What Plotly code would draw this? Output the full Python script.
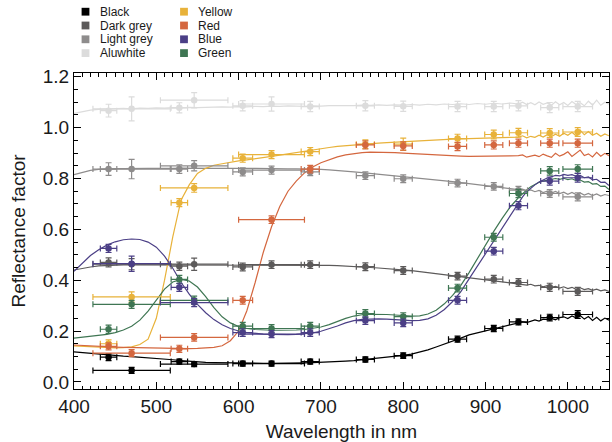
import plotly.graph_objects as go

# ---------------- data ----------------
WL = [400, 410, 420, 430, 440, 450, 460, 470, 480, 490, 500, 510, 520, 530, 540, 550, 560, 570, 580, 590,
      600, 610, 620, 630, 640, 650, 660, 670, 680, 690, 700, 710, 720, 730, 740, 750, 760, 770, 780, 790,
      800, 810, 820, 830, 840, 850, 860, 870, 880, 890, 900, 910, 920, 930, 940,
      945, 950, 955, 960, 965, 970, 975, 980, 985, 990, 995, 1000, 1005, 1010, 1015, 1020, 1025, 1030,
      1035, 1040, 1045, 1050]

SPEC_BLACK = [.118, .115, .111, .108, .105, .103, .101, .099, .097, .095, .093, .090, .087, .084, .081, .079, .077, .076, .075, .074,
              .073, .073, .073, .073, .073, .073, .073, .074, .075, .076, .077, .078, .080, .082, .084, .087, .090, .093, .096, .100,
              .104, .109, .116, .126, .137, .148, .160, .172, .185, .193, .200, .208, .217, .225, .232,
              .236, .233, .240, .244, .239, .247, .245, .250, .244, .253, .256, .249, .259, .252, .261, .247, .257, .242,
              .254, .240, .251, .243]
SPEC_DARKGREY = [.440, .447, .452, .456, .458, .459, .460, .460, .460, .460, .460, .460, .459, .459, .459, .460, .460, .460, .460, .459,
                 .459, .459, .460, .460, .460, .460, .460, .460, .460, .459, .459, .458, .457, .456, .454, .452, .450, .448, .446, .444,
                 .441, .438, .434, .430, .426, .422, .418, .414, .410, .406, .402, .398, .394, .390, .386,
                 .384, .381, .384, .378, .380, .374, .379, .372, .376, .369, .374, .367, .372, .364, .370, .363, .367, .360,
                 .365, .358, .362, .356]
SPEC_LIGHTGREY = [.815, .825, .832, .836, .838, .839, .839, .840, .840, .840, .840, .839, .840, .841, .840, .840, .841, .840, .840, .841,
                  .840, .840, .840, .839, .839, .839, .838, .838, .838, .837, .836, .834, .832, .829, .826, .823, .820, .817, .814, .811,
                  .808, .805, .802, .798, .795, .791, .788, .784, .780, .776, .772, .768, .764, .760, .756,
                  .758, .751, .755, .748, .753, .745, .750, .743, .749, .741, .746, .738, .745, .737, .743, .735, .741, .733,
                  .739, .731, .737, .733]
SPEC_ALUWHITE = [1.056, 1.063, 1.069, 1.072, 1.074, 1.075, 1.076, 1.074, 1.077, 1.076, 1.078, 1.077, 1.079, 1.078, 1.080, 1.079, 1.081, 1.080, 1.082, 1.081,
                 1.083, 1.082, 1.084, 1.083, 1.085, 1.084, 1.086, 1.085, 1.084, 1.086, 1.085, 1.087, 1.086, 1.088, 1.087, 1.089, 1.088, 1.090, 1.088, 1.090,
                 1.089, 1.091, 1.089, 1.092, 1.090, 1.093, 1.091, 1.094, 1.091, 1.095, 1.092, 1.096, 1.093, 1.097, 1.093,
                 1.100, 1.091, 1.098, 1.090, 1.101, 1.092, 1.097, 1.088, 1.102, 1.090, 1.099, 1.087, 1.103, 1.091, 1.098, 1.086, 1.104, 1.089,
                 1.108, 1.088, 1.100, 1.092]
SPEC_YELLOW = [.142, .140, .138, .136, .135, .134, .135, .138, .147, .168, .250, .400, .570, .715, .775, .820, .840, .852, .858, .864,
               .869, .873, .877, .882, .887, .892, .897, .902, .908, .914, .918, .922, .926, .929, .932, .935, .937, .939, .941, .943,
               .945, .947, .949, .951, .952, .954, .955, .956, .957, .958, .959, .960, .961, .962, .963,
               .968, .960, .966, .962, .970, .963, .972, .965, .974, .966, .978, .970, .982, .968, .990, .972, .985, .970,
               .978, .966, .975, .968]
SPEC_RED = [.145, .143, .141, .139, .138, .137, .136, .135, .134, .133, .132, .131, .131, .131, .131, .132, .133, .136, .142, .162,
            .200, .280, .390, .510, .610, .690, .750, .790, .822, .845, .862, .875, .885, .893, .898, .902, .904, .904, .903, .902,
            .900, .898, .896, .894, .892, .890, .889, .888, .887, .887, .887, .888, .888, .889, .890,
            .893, .884, .889, .892, .886, .896, .889, .883, .899, .888, .895, .905, .887, .900, .912, .890, .897, .885,
            .903, .888, .899, .890]
SPEC_BLUE = [.435, .468, .497, .520, .538, .551, .559, .562, .560, .550, .530, .495, .447, .392, .345, .305, .272, .245, .225, .210,
             .200, .194, .190, .188, .187, .186, .186, .187, .189, .193, .199, .208, .220, .232, .241, .246, .248, .248, .247, .245,
             .243, .241, .242, .248, .262, .285, .316, .355, .405, .455, .500, .550, .605, .655, .705,
             .728, .748, .762, .775, .786, .795, .802, .807, .812, .810, .816, .812, .815, .809, .812, .803, .806, .795,
             .797, .785, .786, .772]
SPEC_GREEN = [.172, .175, .178, .182, .187, .194, .204, .219, .243, .278, .322, .365, .393, .403, .397, .373, .335, .292, .256, .232,
              .218, .210, .206, .204, .203, .203, .203, .204, .206, .210, .216, .225, .238, .250, .259, .264, .266, .266, .265, .263,
              .261, .259, .260, .267, .282, .307, .340, .380, .430, .485, .540, .592, .642, .688, .725,
              .741, .755, .768, .777, .785, .790, .794, .796, .800, .797, .801, .796, .799, .792, .794, .786, .788, .778,
              .780, .769, .770, .757]

# filter centres and half-widths (nm)
FILTER_NM = [442, 470, 528, 546, 605, 640, 687, 754, 800, 866, 910, 940, 978, 1012]
FILTER_HW = [10, 47, 10, 41, 12, 40, 11, 11, 11, 11, 11, 11, 11, 18]

PTS_BLACK = [.097, .045, .080, .070, .072, .072, .080, .088, .103, .168, .210, .236, .253, .265]
ERR_BLACK = [.013, .012, .010, .010, .010, .010, .010, .010, .011, .012, .012, .012, .013, .015]
PTS_DARKGREY = [.470, .463, .455, .463, .452, .461, .461, .453, .438, .416, .404, .391, .372, .356]
ERR_DARKGREY = [.018, .022, .016, .024, .015, .015, .015, .015, .015, .015, .015, .015, .016, .016]
PTS_LIGHTGREY = [.837, .837, .837, .850, .826, .833, .826, .811, .799, .782, .769, .754, .741, .728]
ERR_LIGHTGREY = [.025, .038, .017, .020, .016, .016, .015, .015, .015, .015, .015, .015, .015, .016]
PTS_ALUWHITE = [1.067, 1.074, 1.078, 1.108, 1.086, 1.093, 1.083, 1.086, 1.084, 1.083, 1.083, 1.086, 1.079, 1.083]
ERR_ALUWHITE = [.025, .047, .020, .030, .020, .028, .020, .020, .020, .020, .020, .020, .020, .020]
PTS_YELLOW = [.150, .334, .705, .763, .880, .894, .906, .935, .935, .957, .973, .980, .979, .983]
ERR_YELLOW = [.015, .020, .016, .017, .016, .016, .016, .017, .024, .017, .017, .017, .017, .017]
PTS_RED = [.140, .113, .130, .175, .321, .638, .837, .932, .928, .926, .932, .939, .939, .939]
ERR_RED = [.014, .014, .014, .015, .015, .015, .015, .016, .016, .016, .016, .016, .016, .016]
PTS_BLUE = [.525, .465, .372, .312, .194, .188, .194, .241, .232, .321, .514, .693, .790, .803]
ERR_BLUE = [.016, .030, .016, .016, .015, .014, .015, .015, .015, .015, .015, .016, .016, .017]
PTS_GREEN = [.207, .305, .403, .321, .219, .210, .219, .269, .257, .369, .569, .741, .830, .837]
ERR_GREEN = [.016, .016, .016, .016, .015, .015, .015, .015, .015, .015, .015, .016, .017, .017]

NAMES = ["Black", "Dark grey", "Light grey", "Aluwhite", "Yellow", "Red", "Blue", "Green"]
COLORS = ["#000000", "#5c5a5a", "#8e8c8c", "#dcdcdc", "#e8b23a", "#d4673f", "#4b3f86", "#3f7653"]
SPECS = [SPEC_BLACK, SPEC_DARKGREY, SPEC_LIGHTGREY, SPEC_ALUWHITE, SPEC_YELLOW, SPEC_RED, SPEC_BLUE, SPEC_GREEN]
PTS = [PTS_BLACK, PTS_DARKGREY, PTS_LIGHTGREY, PTS_ALUWHITE, PTS_YELLOW, PTS_RED, PTS_BLUE, PTS_GREEN]
ERRS = [ERR_BLACK, ERR_DARKGREY, ERR_LIGHTGREY, ERR_ALUWHITE, ERR_YELLOW, ERR_RED, ERR_BLUE, ERR_GREEN]

FONT = "Liberation Sans, Arial, Helvetica, sans-serif"

# ---------------- figure ----------------
fig = go.Figure()

draw_order = [3, 2, 1, 0, 4, 5, 7, 6]
for i in draw_order:
    fig.add_trace(go.Scatter(x=WL, y=SPECS[i], mode="lines", name=NAMES[i],
                             line=dict(color=COLORS[i], width=1.2), showlegend=False,
                             hoverinfo="skip"))
for i in draw_order:
    fig.add_trace(go.Scatter(
        x=FILTER_NM, y=PTS[i], mode="markers", name=NAMES[i], showlegend=False,
        marker=dict(color=COLORS[i], size=6.5, line=dict(width=0)),
        error_x=dict(type="data", array=FILTER_HW, color=COLORS[i], thickness=1.2, width=3),
        error_y=dict(type="data", array=ERRS[i], color=COLORS[i], thickness=1.2, width=3),
    ))

W, H = 612, 442
L, R, T, B = 74, 3, 73, 53
pw, ph = W - L - R, H - T - B

def px2paper(px, py):
    return (px - L) / pw, (H - B - py) / ph

# ---------------- legend (two columns above the plot) ----------------
shapes, annotations = [], []
for k, name in enumerate(NAMES):
    col, row = divmod(k, 4)
    sq_x = 85.5 + col * 98.5
    tx_x = 97.5 + col * 98.5
    row_y = 11.7 + row * 13.8
    xp, yp = px2paper(sq_x, row_y)
    shapes.append(dict(type="rect", xref="paper", yref="paper", xsizemode="pixel", ysizemode="pixel",
                       xanchor=xp, yanchor=yp, x0=-3.9, x1=3.9, y0=-3.9, y1=3.9,
                       fillcolor=COLORS[k], line=dict(width=0)))
    tx, ty = px2paper(tx_x, row_y)
    annotations.append(dict(x=tx, y=ty, xref="paper", yref="paper", text=name, showarrow=False,
                            xanchor="left", yanchor="middle", font=dict(family=FONT, size=12, color="#1a1a1a")))

axis_common = dict(showline=True, linecolor="black", linewidth=1, mirror="allticks",
                   ticks="inside", ticklen=7, tickwidth=1, tickcolor="black",
                   showgrid=False, zeroline=False,
                   tickfont=dict(family=FONT, size=19, color="#1a1a1a"))

fig.update_layout(
    width=W, height=H,
    margin=dict(l=L, r=R, t=T, b=B),
    paper_bgcolor="white", plot_bgcolor="white",
    showlegend=False,
    shapes=shapes, annotations=annotations,
    font=dict(family=FONT, color="#1a1a1a"),
    xaxis=dict(range=[400, 1050], dtick=100, tick0=0,
               minor=dict(ticks="inside", dtick=10, ticklen=3.5, tickcolor="black", tickwidth=1),
               title=dict(text="Wavelength in nm", font=dict(family=FONT, size=19, color="#1a1a1a"), standoff=8),
               **axis_common),
    yaxis=dict(range=[-0.028, 1.215], dtick=0.2, tick0=0, tickformat=".1f",
               minor=dict(ticks="inside", dtick=0.05, ticklen=3.5, tickcolor="black", tickwidth=1),
               title=dict(text="Reflectance factor", font=dict(family=FONT, size=19, color="#1a1a1a"), standoff=12),
               **axis_common),
)

# remove the browser's default 8 px body margin so the 612x442 figure fills the window exactly
fig.write_html("out.html", config={"displayModeBar": False},
               post_script="document.body.style.margin='0px';document.body.style.overflow='hidden';")
